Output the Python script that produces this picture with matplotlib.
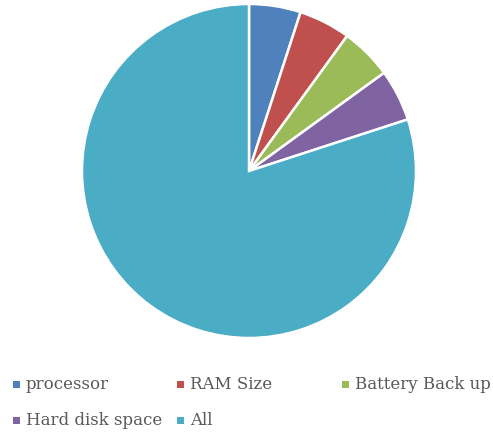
import matplotlib.pyplot as plt
from matplotlib.patches import Rectangle

labels = ['processor', 'RAM Size', 'Battery Back up', 'Hard disk space', 'All']
values = [5, 5, 5, 5, 80]
colors = ['#4F81BD', '#C0504D', '#9BBB59', '#8064A2', '#4BACC6']

W, H = 493, 435
fig = plt.figure(figsize=(W / 100, H / 100), dpi=100)

# pie centred at (249, 172) px with radius 167 px
ax = fig.add_axes([(249 - 167) / W, (H - 339) / H, 334 / W, 334 / H])
ax.pie(values, colors=colors, startangle=90, counterclock=False,
       wedgeprops=dict(edgecolor='white', linewidth=1.8))
ax.set_aspect('equal')
ax.set_xlim(-1, 1)
ax.set_ylim(-1, 1)

# legend laid out row by row, three per row
col_x = [13, 177, 342]
row_y = [385, 421]
for i, (lab, col) in enumerate(zip(labels, colors)):
    r, c = divmod(i, 3)
    x, y = col_x[c], row_y[r]
    fig.patches.append(Rectangle((x / W, (H - y - 3.5) / H), 7 / W, 7 / H,
                                 facecolor=col, edgecolor='none',
                                 transform=fig.transFigure))
    fig.text((x + 13) / W, (H - y) / H, lab, family='DejaVu Serif',
             fontsize=12, color='#595959', va='center', ha='left')

fig.savefig('out.png', dpi=100)
